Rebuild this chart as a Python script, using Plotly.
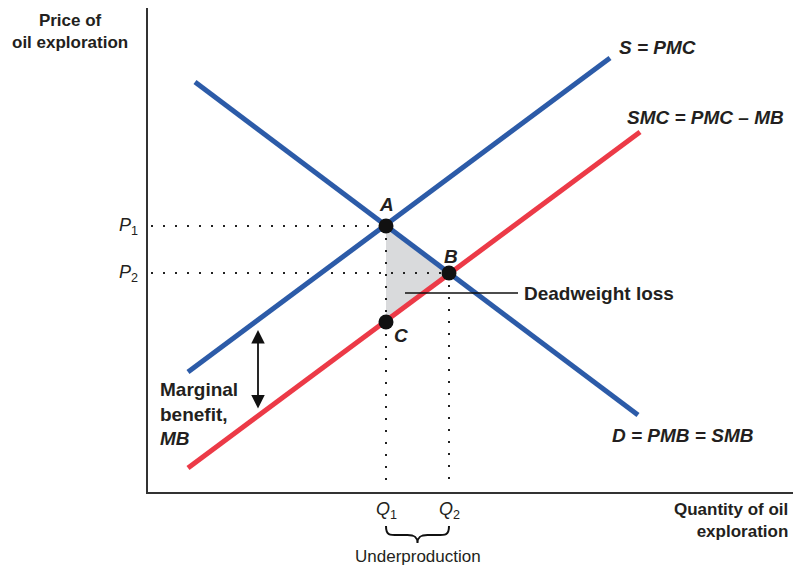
import plotly.graph_objects as go

# Curves (quantity, price) endpoints, in chart units
supply_q = [40, 462]
supply_p = [120, 434]
smc_q = [40, 492]
smc_p = [24, 360]
demand_q = [47, 490]
demand_p = [410, 77]

# Key points
pt_names = ["A", "B", "C"]
pt_q = [238, 301, 238]
pt_p = [266, 219, 170]

Q1, Q2 = 238, 301
P1, P2 = 266, 219

XMAX, YMAX = 650, 484

BLUE = "#2C5BA8"
RED = "#EC3A47"
FONT = "Liberation Sans, Arial, sans-serif"

fig = go.Figure()

# deadweight loss triangle
fig.add_trace(go.Scatter(x=pt_q + [pt_q[0]], y=pt_p + [pt_p[0]], fill="toself",
                         fillcolor="#D9DADC", line=dict(width=0), mode="lines",
                         hoverinfo="skip"))

# dotted guides
dot = dict(color="#222", width=2, dash="2px,10px")
fig.add_trace(go.Scatter(x=[3, Q1], y=[P1, P1], mode="lines", line=dot))
fig.add_trace(go.Scatter(x=[3, Q2], y=[P2, P2], mode="lines", line=dot))
fig.add_trace(go.Scatter(x=[Q1, Q1], y=[P1, 3], mode="lines", line=dot))
fig.add_trace(go.Scatter(x=[Q2, Q2], y=[P2, 3], mode="lines", line=dot))

# curves
fig.add_trace(go.Scatter(x=smc_q, y=smc_p, mode="lines", line=dict(color=RED, width=5)))
fig.add_trace(go.Scatter(x=supply_q, y=supply_p, mode="lines", line=dict(color=BLUE, width=5)))
fig.add_trace(go.Scatter(x=demand_q, y=demand_p, mode="lines", line=dict(color=BLUE, width=5)))

# deadweight pointer line
fig.add_trace(go.Scatter(x=[257, 370], y=[199, 199], mode="lines", line=dict(color="#111", width=1.5)))

# points
fig.add_trace(go.Scatter(x=pt_q, y=pt_p, mode="markers",
                         marker=dict(color="#111", size=15)))

ann = []
def t(x, y, text, size=19, xa="center", ya="middle", align="center", paper=False):
    if paper:
        d = dict(x=x / XMAX, y=y / YMAX, xref="paper", yref="paper")
    else:
        d = dict(x=x, y=y, xref="x", yref="y")
    d.update(text=text, showarrow=False, xanchor=xa, yanchor=ya, align=align,
             font=dict(family=FONT, size=size, color="#231f20"))
    ann.append(d)

t(-78, 461, "<b>Price of<br>oil exploration</b>", size=17, paper=True)
t(-20, P1, "<i>P</i><sub>1</sub>", size=18, paper=True)
t(-20, P2, "<i>P</i><sub>2</sub>", size=18, paper=True)
t(469, 445, "<b><i>S = PMC</i></b>", xa="left")
t(477, 375, "<b><i>SMC = PMC – MB</i></b>", xa="left")
t(462, 57, "<b><i>D = PMB = SMB</i></b>", xa="left")
t(10, 78, "<b>Marginal<br>benefit,<br><i>MB</i></b>", xa="left", align="left")
t(238, 288, "<b><i>A</i></b>")
t(303, 236, "<b><i>B</i></b>")
t(253, 157, "<b><i>C</i></b>")
t(374, 199, "<b>Deadweight loss</b>", size=19, xa="left")
t(Q1, -19, "<i>Q</i><sub>1</sub>", size=18, paper=True)
t(Q2, -19, "<i>Q</i><sub>2</sub>", size=18, paper=True)
t((Q1 + Q2) / 2, -64, "Underproduction", size=17, paper=True)
t(642, -28, "<b>Quantity of oil<br>exploration</b>", size=17, xa="right", align="right", paper=True)

# double arrow (marginal benefit)
ann.append(dict(x=110, y=162, ax=110, ay=82, xref="x", yref="y", axref="x", ayref="y",
                showarrow=True, arrowhead=2, arrowside="end+start", arrowsize=1.5,
                arrowwidth=1.8, arrowcolor="#111", text=""))

# brace under Q1..Q2 (x in data units, y in paper units)
mid = (Q1 + Q2) / 2
def py(v):
    return v / YMAX
top, bot = -34, -51
brace = (f"M {Q1},{py(top)} C {Q1},{py(top-11)} {Q1+4},{py(top-9)} {mid-10},{py(top-9)} "
         f"C {mid-3},{py(top-9)} {mid},{py(top-11)} {mid},{py(bot)} "
         f"C {mid},{py(top-11)} {mid+3},{py(top-9)} {mid+10},{py(top-9)} "
         f"C {Q2-4},{py(top-9)} {Q2},{py(top-11)} {Q2},{py(top)}")

fig.update_layout(
    width=801, height=569,
    margin=dict(l=140, r=11, t=0, b=85),
    plot_bgcolor="white", paper_bgcolor="white",
    showlegend=False,
    xaxis=dict(range=[0, XMAX], showgrid=False, zeroline=False, showticklabels=False,
               ticks="", showline=True, linecolor="#333", linewidth=1.5, fixedrange=True),
    yaxis=dict(range=[0, YMAX], showgrid=False, zeroline=False, showticklabels=False,
               ticks="", showline=True, linecolor="#333", linewidth=1.5, fixedrange=True),
    annotations=ann,
    shapes=[dict(type="path", path=brace, xref="x", yref="paper",
                 line=dict(color="#111", width=2))],
)

fig.write_html("out.html")
